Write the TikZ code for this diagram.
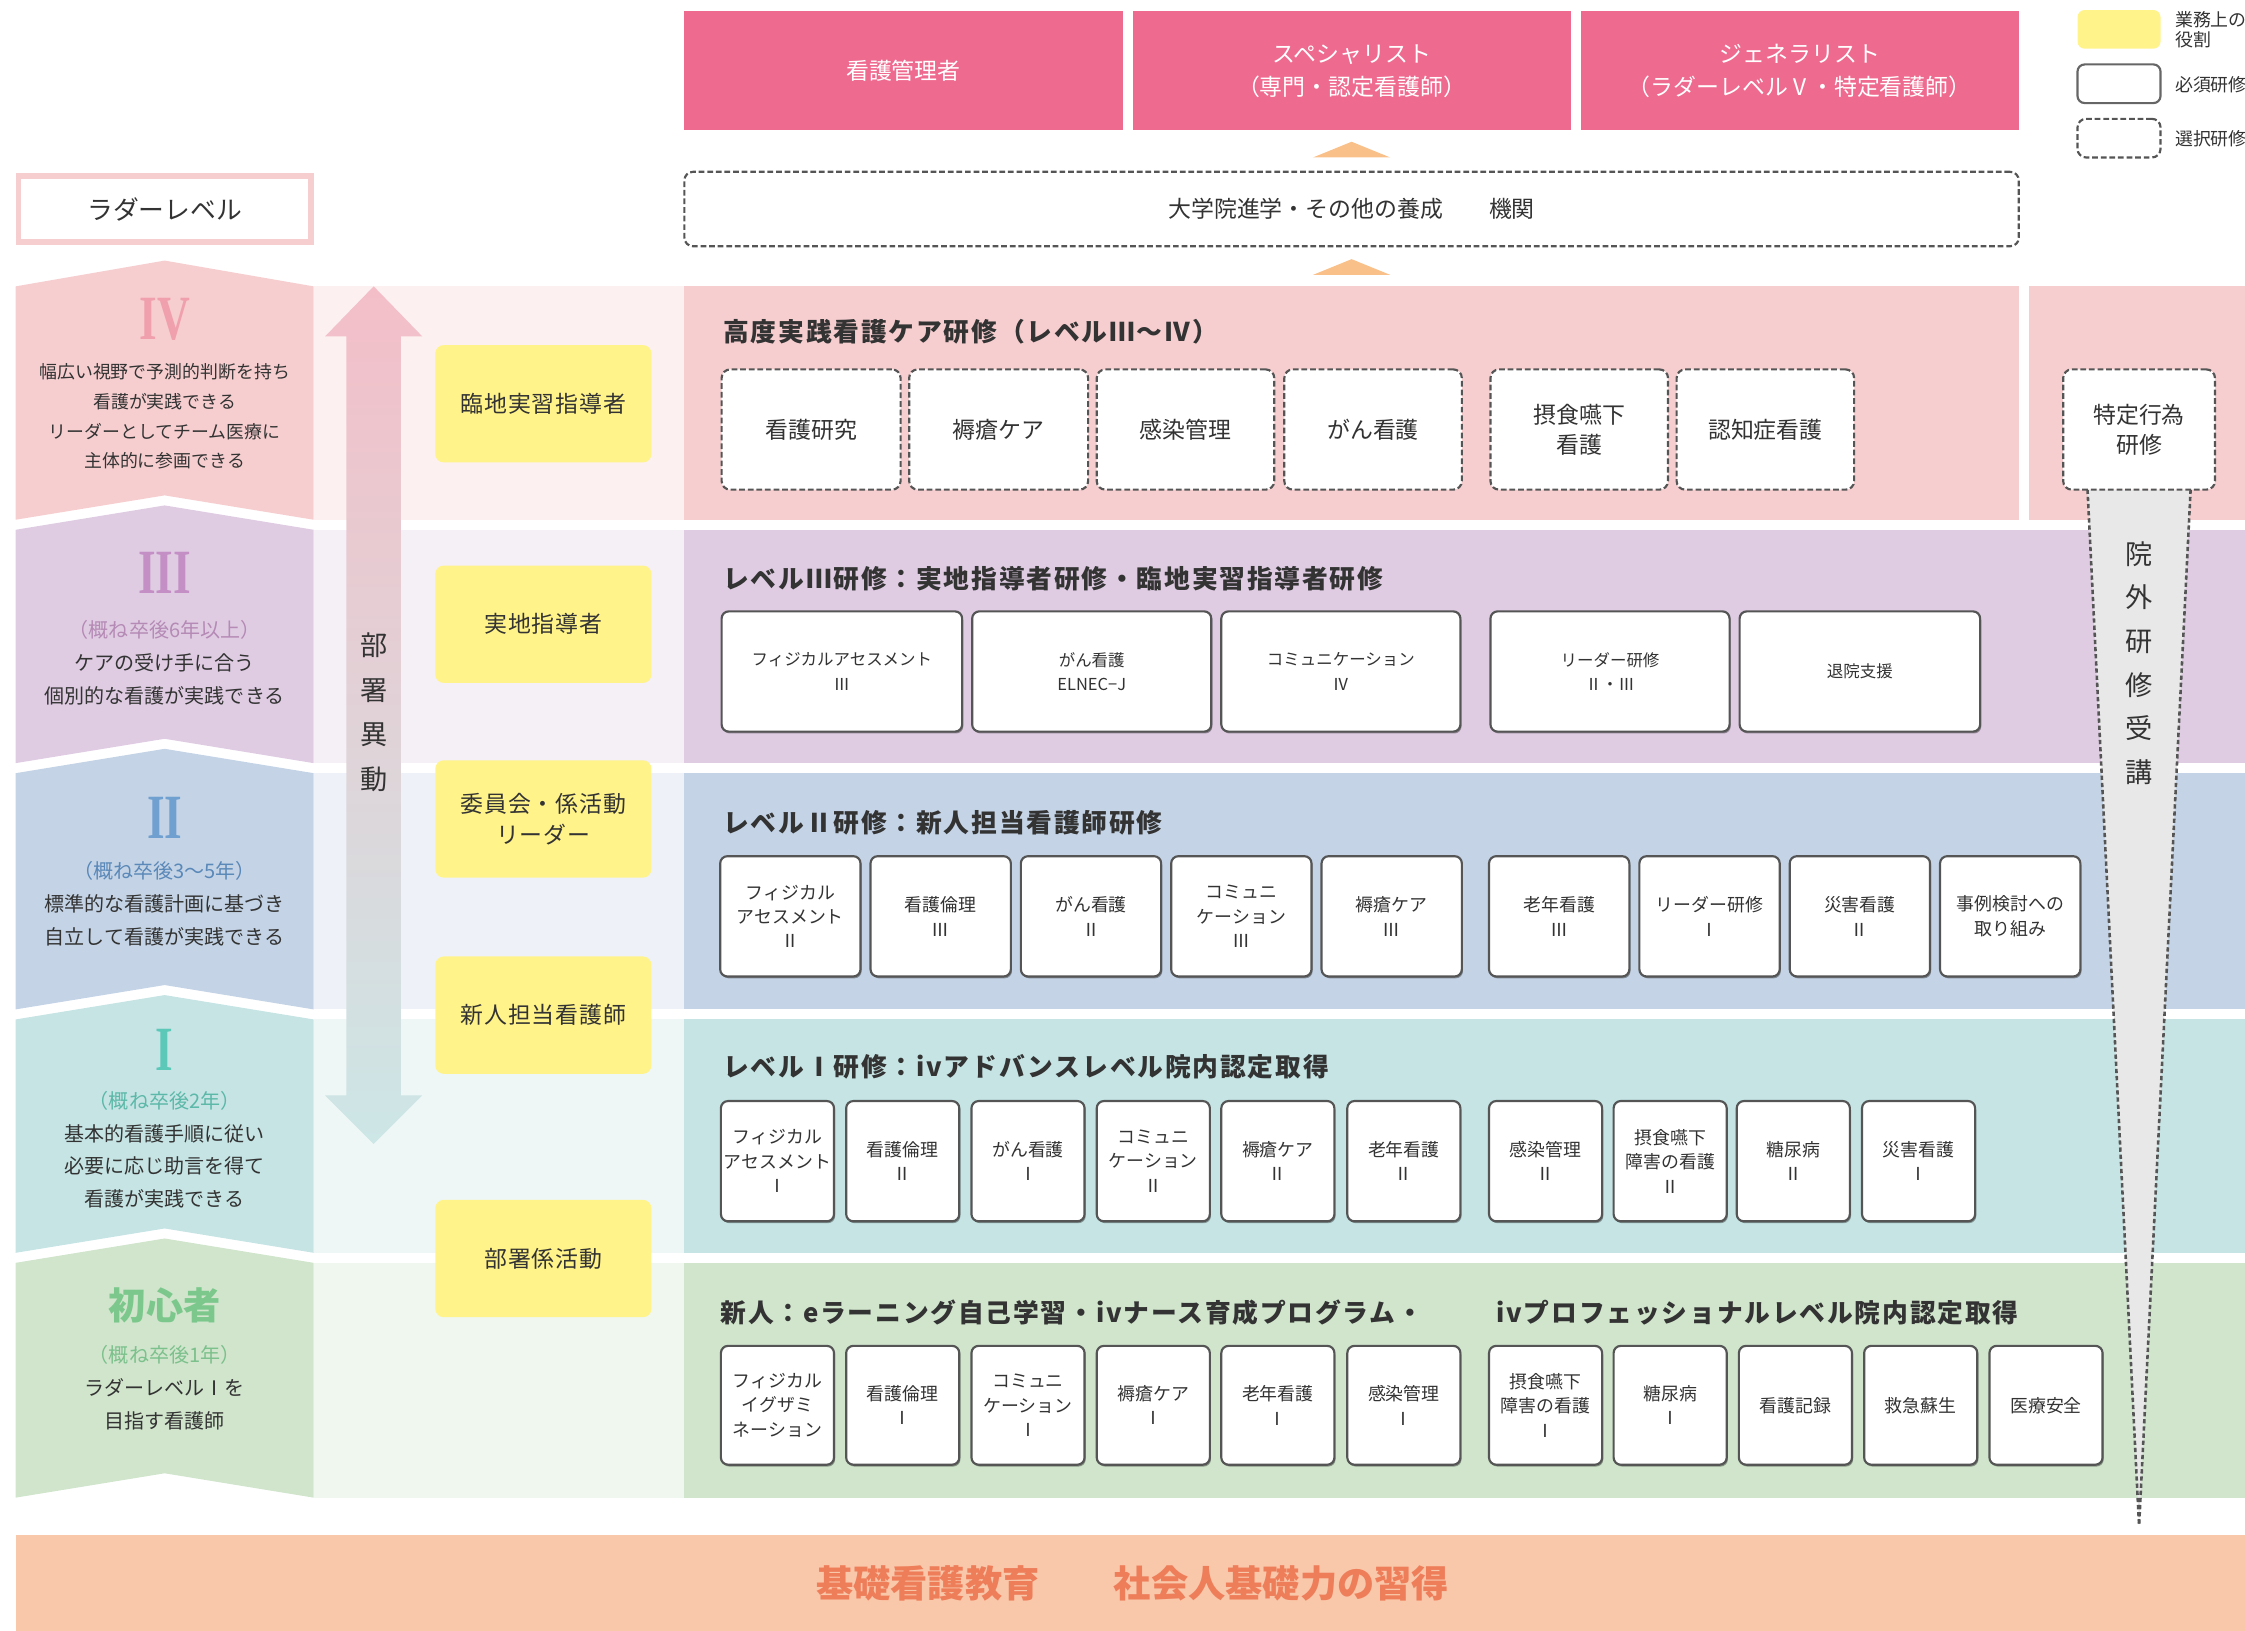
\documentclass[tikz,border=0pt]{standalone}
\usepackage{fontspec}
\usepackage{graphicx}
\setmainfont{Noto Sans CJK JP}
\newfontfamily\numfont{Liberation Serif}
\usetikzlibrary{shadows,calc}
\newcommand\myfs[2]{\fontsize{#1}{#2}\selectfont}
\definecolor{toppink}{HTML}{EF6A8F}
\definecolor{tri}{HTML}{F9C08A}
\definecolor{roley}{HTML}{FFF38A}
\definecolor{bgray}{HTML}{555555}
\definecolor{tdark}{HTML}{333333}
\definecolor{cIV}{HTML}{F6CED0}
\definecolor{cIVl}{HTML}{FCF0F0}
\definecolor{cIII}{HTML}{DFCCE3}
\definecolor{cIIIl}{HTML}{F5EFF6}
\definecolor{cII}{HTML}{C4D4E6}
\definecolor{cIIl}{HTML}{EEF2F8}
\definecolor{cI}{HTML}{C6E4E4}
\definecolor{cIl}{HTML}{EEF7F6}
\definecolor{cN}{HTML}{D0E5CC}
\definecolor{cNl}{HTML}{F0F7EF}
\definecolor{cBase}{HTML}{F9C7A9}
\definecolor{tBase}{HTML}{EE7D5A}
\definecolor{nIV}{HTML}{F0A0AC}
\definecolor{nIII}{HTML}{C48FC4}
\definecolor{nII}{HTML}{70A0D0}
\definecolor{nI}{HTML}{5CC8B8}
\definecolor{nN}{HTML}{7CC88C}
\definecolor{sIII}{HTML}{B58AB5}
\definecolor{sII}{HTML}{5A88B8}
\definecolor{sI}{HTML}{5CB8A8}
\definecolor{sN}{HTML}{7CC08C}
\definecolor{arrTop}{HTML}{F4BEC8}
\definecolor{arrBot}{HTML}{CDE6E6}
\definecolor{funnelc}{HTML}{E8E8E8}
\begin{document}
\begin{tikzpicture}[x=1pt,y=-1pt,
  reqbox/.style={draw=bgray, line width=1.5pt, fill=white, rounded corners=5pt, align=center, inner sep=0pt, text=tdark,
     drop shadow={shadow xshift=0.8pt, shadow yshift=-1.3pt, fill=black, opacity=0.35}},
  optbox/.style={draw=bgray, line width=1.5pt, dash pattern=on 4pt off 2pt, fill=white, rounded corners=6pt, align=center, inner sep=0pt, text=tdark},
  sz/.style 2 args={minimum width=#1pt, minimum height=#2pt},
  bIV/.style={optbox, font=\myfs{16}{21}, sz={124}{84}},
  bIII/.style={reqbox, font=\myfs{11.5}{17}, sz={167}{84}},
  bII/.style={reqbox, font=\myfs{12.5}{17}, sz={98}{84}},
  bI/.style={reqbox, font=\myfs{12.5}{17}, sz={79}{84}},
  bN/.style={reqbox, font=\myfs{12.5}{17}, sz={79}{83}},
  rolebox/.style={fill=roley, rounded corners=6pt, sz={151}{82}, align=center, text=tdark, font=\myfs{16}{22}\addfontfeature{LetterSpace=4}},
  topbox/.style={fill=toppink, sz={306}{83}, align=center, text=white, font=\myfs{16}{23}},
  heading/.style={anchor=west, text=tdark, font=\bfseries\myfs{18}{22}\addfontfeature{LetterSpace=7}, inner sep=0pt},
  lvtext/.style={align=center, text=tdark, inner sep=0pt},
  roman/.style={font=\numfont\bfseries\myfs{44}{44}, inner sep=0pt},
  funneldash/.style={draw=bgray, line width=1.8pt, dash pattern=on 3pt off 2pt},
]
\useasboundingbox (0,0) rectangle (1568,1139);

% ---------- legend ----------
\node[fill=roley, rounded corners=5pt, sz={58}{27}] (legY) at (1480,20.5) {};
\node[anchor=west, text=tdark, align=left, font=\myfs{12.5}{14}, inner sep=0pt] (legYt) at (1519,21) {業務上の\\役割};
\node[draw=bgray!90, line width=1.5pt, fill=white, rounded corners=5pt, sz={58}{27}] (legS) at (1480,58.5) {};
\node[anchor=west, text=tdark, font=\myfs{12.5}{14}, inner sep=0pt] (legSt) at (1519,59) {必須研修};
\node[optbox, sz={58}{27}] (legD) at (1480,96.5) {};
\node[anchor=west, text=tdark, font=\myfs{12.5}{14}, inner sep=0pt] (legDt) at (1519,97) {選択研修};

% ---------- top goals ----------
\node[topbox] (mgr) at (631,49.5) {看護管理者};
\node[topbox] (spec) at (944,49.5) {スペシャリスト\\（専門・認定看護師）};
\node[topbox] (gen) at (1257,49.5) {ジェネラリスト\\（ラダーレベルⅤ・特定看護師）};
\fill[tri] (944,99) -- (971,110) -- (917,110) -- cycle;
\node[optbox, sz={932}{52}, font=\myfs{16}{20}] (grad) at (944,146) {大学院進学・その他の養成　　機関};
\fill[tri] (944,181) -- (971,192) -- (917,192) -- cycle;

% ---------- ladder level title ----------
\node[draw=cIV, line width=4pt, fill=white, sz={204}{46}, text=tdark, font=\myfs{18}{20}] (ladder) at (115,146) {ラダーレベル};

% ---------- bands ----------
\fill[cIV] (11,200) -- (115,182) -- (219,200) -- (219,363) -- (115,346) -- (11,363) -- cycle;
\fill[cIII] (11,370) -- (115,353) -- (219,370) -- (219,533) -- (115,516) -- (11,533) -- cycle;
\fill[cII] (11,540) -- (115,523) -- (219,540) -- (219,705) -- (115,688) -- (11,705) -- cycle;
\fill[cI] (11,712) -- (115,695) -- (219,712) -- (219,875) -- (115,858) -- (11,875) -- cycle;
\fill[cN] (11,882) -- (115,865) -- (219,882) -- (219,1046) -- (115,1029) -- (11,1046) -- cycle;

\fill[cIVl] (219,200) rectangle (478,363);
\fill[cIV] (478,200) rectangle (1410,363);
\fill[cIV] (1417,200) rectangle (1568,363);
\fill[cIIIl] (219,370) rectangle (478,533);
\fill[cIII] (478,370) rectangle (1568,533);
\fill[cIIl] (219,540) rectangle (478,705);
\fill[cII] (478,540) rectangle (1568,705);
\fill[cIl] (219,712) rectangle (478,875);
\fill[cI] (478,712) rectangle (1568,875);
\fill[cNl] (219,882) rectangle (478,1046);
\fill[cN] (478,882) rectangle (1568,1046);

\fill[cBase] (11,1072) rectangle (1568,1139);
\node[text=tBase, font=\bfseries\myfs{26}{28}] (base) at (791,1106) {基礎看護教育　　社会人基礎力の習得};

% ---------- level descriptions ----------
\node[roman, text=nIV] (rIV) at (115,223) {\scalebox{0.72}[1]{IV}};
\node[lvtext, font=\myfs{12.5}{20.7}] (dIV) at (115,291) {幅広い視野で予測的判断を持ち\\看護が実践できる\\リーダーとしてチーム医療に\\主体的に参画できる};
\node[roman, text=nIII] (rIII) at (115,400) {\scalebox{0.72}[1]{III}};
\node[lvtext, font=\myfs{14}{23}] (dIII) at (115,463) {\textcolor{sIII}{（概ね卒後6年以上）}\\ケアの受け手に合う\\個別的な看護が実践できる};
\node[roman, text=nII] (rII) at (115,571) {\scalebox{0.72}[1]{II}};
\node[lvtext, font=\myfs{14}{23}] (dII) at (115,631) {\textcolor{sII}{（概ね卒後3〜5年）}\\標準的な看護計画に基づき\\自立して看護が実践できる};
\node[roman, text=nI] (rI) at (115,733) {\scalebox{0.72}[1]{I}};
\node[lvtext, font=\myfs{14}{22.7}] (dI) at (115,803) {\textcolor{sI}{（概ね卒後2年）}\\基本的看護手順に従い\\必要に応じ助言を得て\\看護が実践できる};
\node[text=nN, font=\bfseries\myfs{26}{28}, inner sep=0pt] (rN) at (115,912) {初心者};
\node[lvtext, font=\myfs{14}{23}] (dN) at (115,969) {\textcolor{sN}{（概ね卒後1年）}\\ラダーレベルⅠを\\目指す看護師};

% ---------- transfer arrow ----------
\shade[top color=arrTop, bottom color=arrBot]
  (261,200) -- (295,235) -- (280,235) -- (280,765) -- (295,765) -- (261,799)
  -- (227,765) -- (242,765) -- (242,235) -- (227,235) -- cycle;
\node[lvtext, font=\myfs{19}{31}] (move) at (261,497.5) {部\\署\\異\\動};

% ---------- role boxes ----------
\node[rolebox] (role1) at (379.5,282) {臨地実習指導者};
\node[rolebox] (role2) at (379.5,436) {実地指導者};
\node[rolebox] (role3) at (379.5,572) {委員会・係活動\\リーダー};
\node[rolebox] (role4) at (379.5,709) {新人担当看護師};
\node[rolebox] (role5) at (379.5,879) {部署係活動};

% ---------- outside training funnel ----------
\coordinate (tip) at (1494,1066);
\coordinate (fl) at (1458,342);
\coordinate (fr) at (1530,342);
\fill[funnelc] (fl) -- (fr) -- (tip) -- cycle;
\draw[funneldash] (fl) -- (tip);
\draw[funneldash] (fr) -- (tip);
\node[lvtext, font=\myfs{19}{30.5}] (outside) at (1494,463) {院\\外\\研\\修\\受\\講};

% ---------- headings ----------
\node[heading] (hIV) at (505,232) {高度実践看護ケア研修（レベルⅢ〜Ⅳ）};
\node[heading] (hIII) at (505,404) {レベルⅢ研修：実地指導者研修・臨地実習指導者研修};
\node[heading] (hII) at (505,575) {レベルⅡ研修：新人担当看護師研修};
\node[heading] (hI) at (505,745) {レベルⅠ研修：ivアドバンスレベル院内認定取得};
\node[heading] (hNa) at (503,917) {新人：eラーニング自己学習・ivナース育成プログラム・};
\node[heading] (hNb) at (1045,917) {ivプロフェッショナルレベル院内認定取得};

% ---------- level IV boxes ----------
\node[bIV, sz={125}{84}] (iv1) at (566.5,300) {看護研究};
\node[bIV, sz={125}{84}] (iv2) at (697.5,300) {褥瘡ケア};
\node[bIV] (iv3) at (828,300) {感染管理};
\node[bIV] (iv4) at (959,300) {がん看護};
\node[bIV] (iv5) at (1103,300) {摂食嚥下\\看護};
\node[bIV] (iv6) at (1233,300) {認知症看護};
\node[bIV, sz={106}{84}] (tok) at (1494,300) {特定行為\\研修};

% ---------- level III boxes ----------
\node[bIII, sz={168}{84}] (iii1) at (588,469) {フィジカルアセスメント\\Ⅲ};
\node[bIII] (iii2) at (762.5,469) {がん看護\\ELNEC−J};
\node[bIII] (iii3) at (936.5,469) {コミュニケーション\\Ⅳ};
\node[bIII] (iii4) at (1124.5,469) {リーダー研修\\Ⅱ・Ⅲ};
\node[bIII, sz={168}{84}] (iii5) at (1299,469) {退院支援};

% ---------- level II boxes ----------
\node[bII] (ii1) at (552,640) {フィジカル\\アセスメント\\Ⅱ};
\node[bII] (ii2) at (657,640) {看護倫理\\Ⅲ};
\node[bII] (ii3) at (762,640) {がん看護\\Ⅱ};
\node[bII] (ii4) at (867,640) {コミュニ\\ケーション\\Ⅲ};
\node[bII] (ii5) at (972,640) {褥瘡ケア\\Ⅲ};
\node[bII] (ii6) at (1089,640) {老年看護\\Ⅲ};
\node[bII] (ii7) at (1194,640) {リーダー研修\\Ⅰ};
\node[bII] (ii8) at (1299,640) {災害看護\\Ⅱ};
\node[bII] (ii9) at (1404,640) {事例検討への\\取り組み};

% ---------- level I boxes ----------
\node[bI] (i1) at (543,811) {フィジカル\\アセスメント\\Ⅰ};
\node[bI] (i2) at (630.5,811) {看護倫理\\Ⅱ};
\node[bI] (i3) at (718,811) {がん看護\\Ⅰ};
\node[bI] (i4) at (805.5,811) {コミュニ\\ケーション\\Ⅱ};
\node[bI] (i5) at (892.5,811) {褥瘡ケア\\Ⅱ};
\node[bI] (i6) at (980.5,811) {老年看護\\Ⅱ};
\node[bI] (i7) at (1079.5,811) {感染管理\\Ⅱ};
\node[bI] (i8) at (1166.5,811) {摂食嚥下\\障害の看護\\Ⅱ};
\node[bI] (i9) at (1252.5,811) {糖尿病\\Ⅱ};
\node[bI] (i10) at (1340,811) {災害看護\\Ⅰ};

% ---------- novice boxes ----------
\node[bN] (n1) at (543,981.5) {フィジカル\\イグザミ\\ネーション};
\node[bN] (n2) at (630.5,981.5) {看護倫理\\Ⅰ};
\node[bN] (n3) at (718,981.5) {コミュニ\\ケーション\\Ⅰ};
\node[bN] (n4) at (805.5,981.5) {褥瘡ケア\\Ⅰ};
\node[bN] (n5) at (892.5,981.5) {老年看護\\Ⅰ};
\node[bN] (n6) at (980.5,981.5) {感染管理\\Ⅰ};
\node[bN] (n7) at (1079.5,981.5) {摂食嚥下\\障害の看護\\Ⅰ};
\node[bN] (n8) at (1166.5,981.5) {糖尿病\\Ⅰ};
\node[bN] (n9) at (1254,981.5) {看護記録};
\node[bN] (n10) at (1341.5,981.5) {救急蘇生};
\node[bN] (n11) at (1429,981.5) {医療安全};
\end{tikzpicture}
\end{document}
